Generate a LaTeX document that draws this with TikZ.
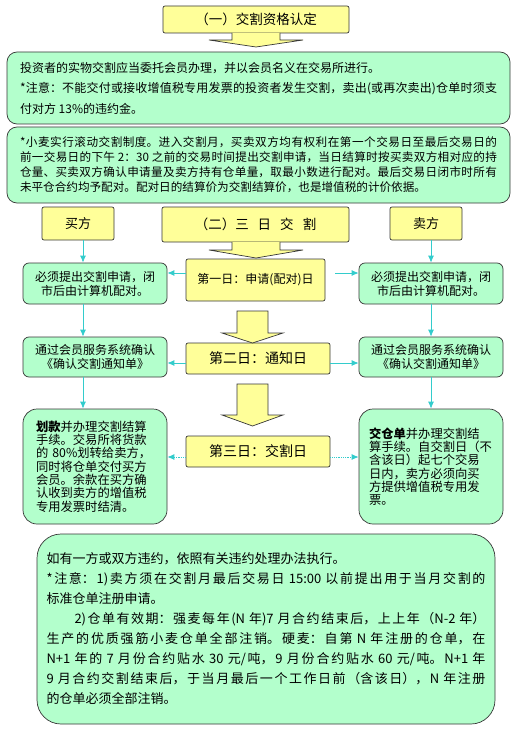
\documentclass[tikz,border=0pt]{standalone}
\usepackage{fontspec}
\setmainfont{Noto Sans CJK SC}
\XeTeXlinebreaklocale "zh"
\XeTeXlinebreakskip=0pt plus 2pt
\setlength{\parindent}{0pt}
\usetikzlibrary{arrows.meta}

\definecolor{ylw}{RGB}{255,255,153}
\definecolor{mint}{RGB}{179,255,204}
\definecolor{lnk}{RGB}{51,204,204}
\definecolor{edge}{RGB}{55,55,55}

\begin{document}
\begin{tikzpicture}[
    x=1pt, y=-1pt,
    ybox/.style={rectangle, draw=edge, fill=ylw, line width=0.7pt, rounded corners=2pt, inner sep=0pt},
    gbox/.style={rectangle, draw=edge, fill=mint, line width=0.7pt, rounded corners=#1, inner sep=0pt},
    gbox/.default=6pt,
    blk/.style={draw=edge, fill=ylw, line width=0.7pt},
    link/.style={draw=lnk, line width=0.8pt, -{Latex[length=7pt,width=6pt]}},
    f12/.style={font=\fontsize{12}{14}\selectfont},
    f14/.style={font=\fontsize{14}{16}\selectfont}
]
\useasboundingbox (0,0) rectangle (516,730);

% part one
\node [ybox, minimum width=186pt, minimum height=27pt, font=\fontsize{13.5}{16}\selectfont] (qual) at (256,19.5) {（一）交割资格认定};
\path [blk] (232,33) -- (232,40) -- (209,40) -- (256,47) -- (303,40) -- (280,40) -- (280,33);

\node [gbox=10pt, minimum width=503pt, minimum height=72pt, text width=477pt, align=justify,
       font=\fontsize{12}{20.5}\selectfont] (rule) at (258.5,88) {%
投资者的实物交割应当委托会员办理，并以会员名义在交易所进行。\par
*注意：不能交付或接收增值税专用发票的投资者发生交割，卖出(或再次卖出)仓单时须支\linebreak
付对方 13\%的违约金。};

\node [gbox=10pt, minimum width=503pt, minimum height=76pt, text width=477pt, align=justify,
       font=\fontsize{11.6}{15}\selectfont] (roll) at (258.5,165) {%
*小麦实行滚动交割制度。进入交割月，买卖双方均有权利在第一个交易日至最后交易日的\linebreak
前一交易日的下午 2：30 之前的交易时间提出交割申请，当日结算时按买卖双方相对应的持\linebreak
仓量、买卖双方确认申请量及卖方持有仓单量，取最小数进行配对。最后交易日闭市时所有\linebreak
未平仓合约均予配对。配对日的结算价为交割结算价，也是增值税的计价依据。};

% part two
\node [ybox, minimum width=72pt, minimum height=33pt, font=\fontsize{13}{15}\selectfont] (buy) at (78,223.5) {买方};
\node [ybox, minimum width=72pt, minimum height=33pt, font=\fontsize{13}{15}\selectfont] (sell) at (426,223.5) {卖方};
\node [ybox, minimum width=187pt, minimum height=35pt, font=\fontsize{13.5}{16}\selectfont] (three) at (255.5,224.5)
      {（二）三\hspace{9pt}日\hspace{9pt}交\hspace{9pt}割};
\path [blk] (232,242) -- (232,250) -- (209,250) -- (256,258) -- (303,250) -- (280,250) -- (280,242);

\node [ybox, minimum width=139pt, minimum height=42pt, f12] (d1) at (255.5,280) {第一日：申请(配对)日};
\node [ybox, minimum width=144pt, minimum height=31pt, f14] (d2) at (258,358.5) {第二日：通知日};
\node [ybox, minimum width=144pt, minimum height=31pt, f14] (d3) at (258,451.5) {第三日：交割日};

\path [blk] (237,311) -- (268,311) -- (268,333) -- (283,333) -- (252.5,343) -- (222,333) -- (237,333) -- cycle;
\path [blk] (237,384) -- (268,384) -- (268,415) -- (283,415) -- (252.5,426) -- (222,415) -- (237,415) -- cycle;

\node [gbox, minimum width=144pt, minimum height=41pt, f12, align=center] (l1) at (95,283.5)
      {必须提出交割申请，闭\\市后由计算机配对。};
\node [gbox, minimum width=144pt, minimum height=41pt, f12, align=center] (r1) at (431,283.5)
      {必须提出交割申请，闭\\市后由计算机配对。};
\node [gbox, minimum width=144pt, minimum height=40pt, f12, align=center] (l2) at (95,357)
      {通过会员服务系统确认\\《确认交割通知单》};
\node [gbox, minimum width=144pt, minimum height=40pt, f12, align=center] (r2) at (431,357)
      {通过会员服务系统确认\\《确认交割通知单》};
\node [gbox=14pt, minimum width=144pt, minimum height=115pt, text width=118pt, align=left,
       font=\fontsize{12.3}{13.3}\selectfont] (l3) at (95,466.5) {%
\textbf{划款}并办理交割结算\\
手续。交易所将货款\\
的 80\%划转给卖方，\\
同时将仓单交付买方\\
会员。余款在买方确\\
认收到卖方的增值税\\
专用发票时结清。};
\node [gbox=14pt, minimum width=144pt, minimum height=115pt, text width=124pt, align=left,
       font=\fontsize{12.3}{13.3}\selectfont] (r3) at (431,466.5) {%
\textbf{交仓单}并办理交割结\\
算手续。自交割日（不\\
含该日）起七个交易\\
日内，卖方必须向买\\
方提供增值税专用发\\
票。\par\vspace{13pt}};

% links
\draw [link] ([xshift=5pt]buy.south) -- ([xshift=5pt]buy.south |- l1.north);
\draw [link] (sell.south -| r1.north) -- (r1.north);
\draw [link] ([xshift=-12pt]l1.south) -- ([xshift=-12pt]l2.north);
\draw [link] ([xshift=-12pt]l2.south) -- ([xshift=-12pt]l3.north);
\draw [link] (r1.south) -- (r2.north);
\draw [link] (r2.south) -- (r3.north);
\draw [link] ([yshift=7pt]d1.west) -- ([yshift=7pt]d1.west -| l1.east);
\draw [link, shorten <=10pt] ([yshift=7pt]d1.east) -- ([yshift=7pt]d1.east -| r1.west);
\draw [link] ([yshift=-4.5pt]d2.west) -- ([yshift=-4.5pt]d2.west -| l2.east);
\draw [link] ([yshift=-4.5pt]d2.east) -- ([yshift=-4.5pt]d2.east -| r2.west);
\draw [link, densely dotted] ([yshift=-5.5pt]d3.west) -- ([yshift=-5.5pt]d3.west -| l3.east);
\draw [link, densely dotted] ([yshift=-5.5pt]d3.east) -- ([yshift=-5.5pt]d3.east -| r3.west);

% breach
\node [gbox=24pt, minimum width=458pt, minimum height=190pt, text width=439pt, align=justify,
       font=\fontsize{13}{20}\selectfont] (breach) at (266,629) {%
如有一方或双方违约，依照有关违约处理办法执行。\par
*注意：1)卖方须在交割月最后交易日 15:00 以前提出用于当月交割的\linebreak
标准仓单注册申请。\par
\hspace*{28pt}2)仓单有效期：强麦每年(N 年)7 月合约结束后，上上年（N-2 年）\linebreak
生产的优质强筋小麦仓单全部注销。硬麦：自第 N 年注册的仓单，在\linebreak
N+1 年的 7 月份合约贴水 30 元/吨，9 月份合约贴水 60 元/吨。N+1 年\linebreak
9 月合约交割结束后，于当月最后一个工作日前（含该日），N 年注册\linebreak
的仓单必须全部注销。};

\end{tikzpicture}
\end{document}
